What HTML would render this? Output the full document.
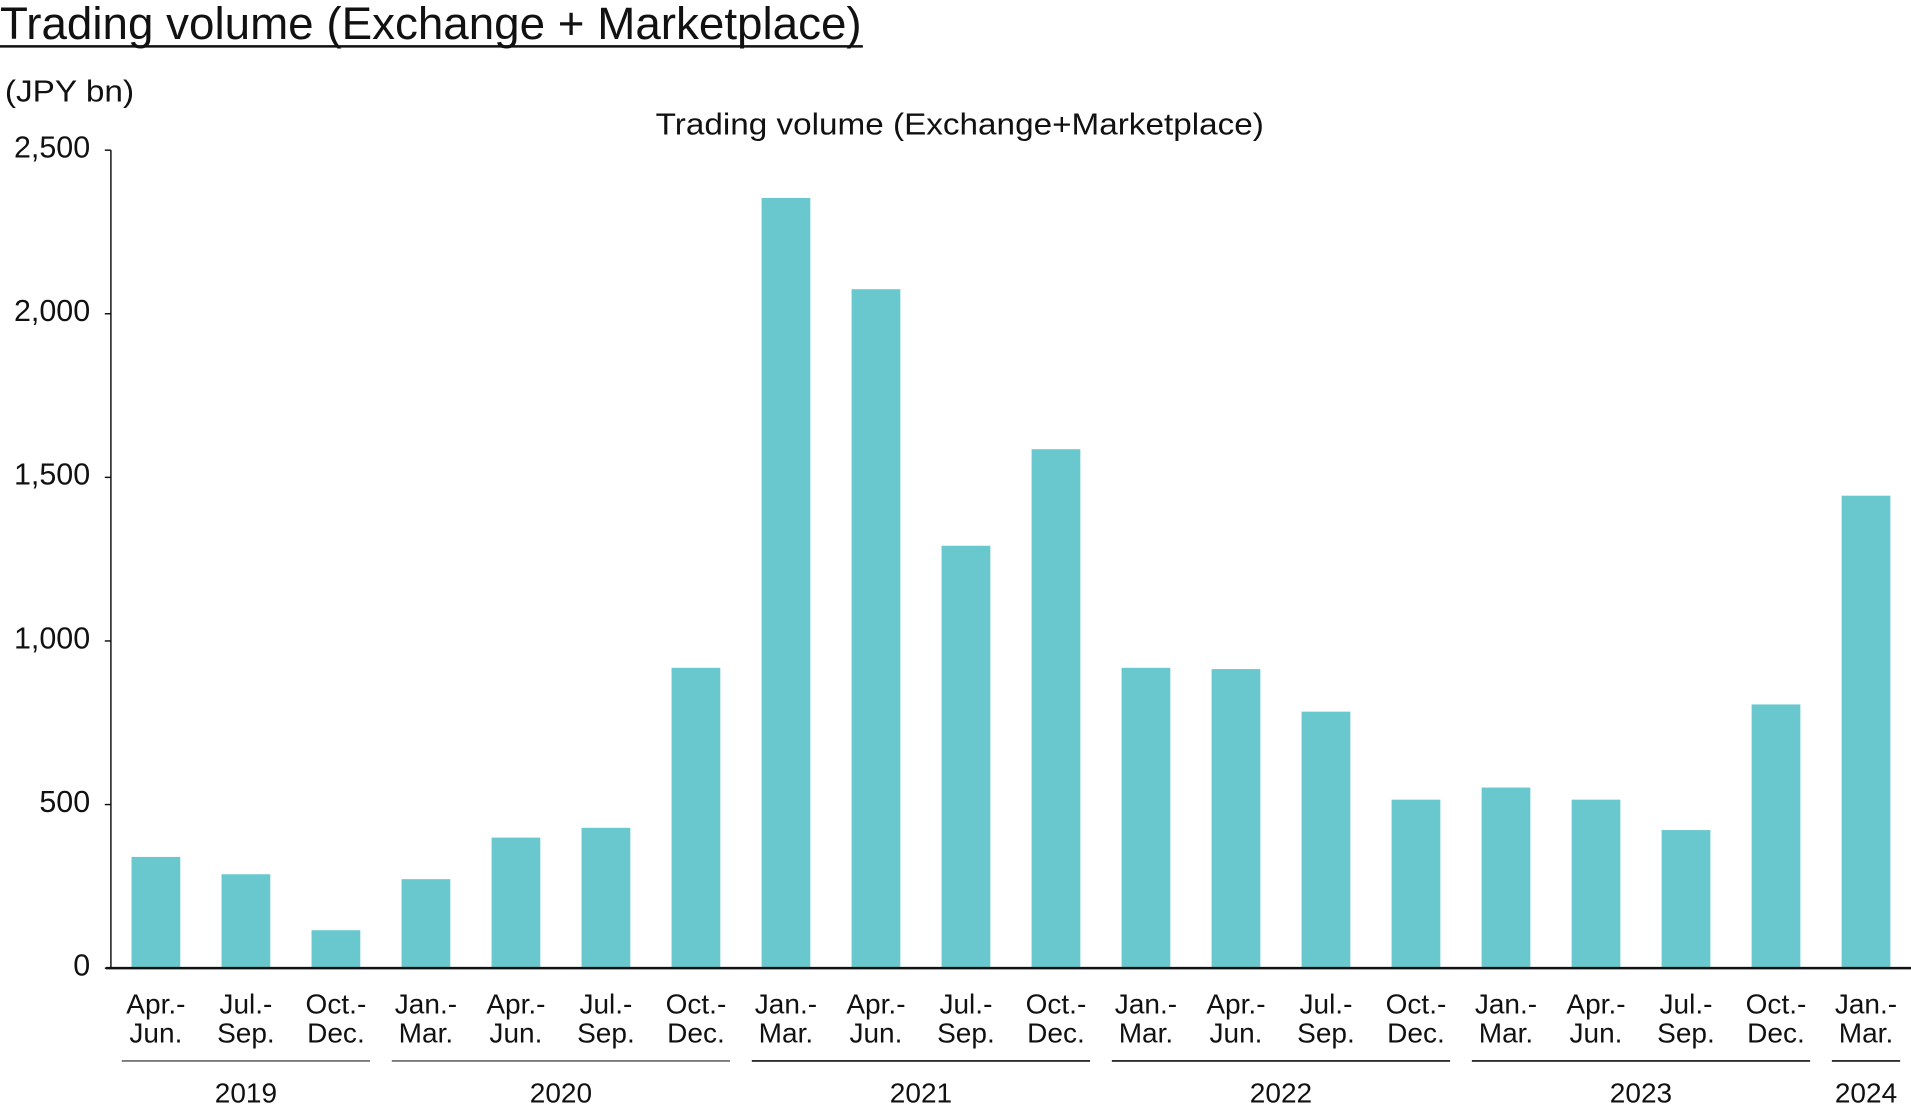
<!DOCTYPE html>
<html><head><meta charset="utf-8"><style>
html,body{margin:0;padding:0;background:#fff;width:1911px;height:1111px;overflow:hidden}
svg{display:block;font-family:"Liberation Sans",Arial,sans-serif}
</style></head><body>
<svg id="chart" width="1911" height="1111" viewBox="0 0 1568 910" preserveAspectRatio="none" xmlns="http://www.w3.org/2000/svg">
<text x="0" y="32" font-size="37" textLength="707" lengthAdjust="spacingAndGlyphs" fill="#111">Trading volume (Exchange + Marketplace)</text>
<line x1="0" y1="38" x2="708" y2="38" stroke="#111" stroke-width="2"/>
<text x="4" y="83" font-size="25" textLength="106" lengthAdjust="spacingAndGlyphs" fill="#111">(JPY bn)</text>
<text x="538" y="110" font-size="25" textLength="499" lengthAdjust="spacingAndGlyphs" fill="#111">Trading volume (Exchange+Marketplace)</text>
<g id="plot"></g>
</svg>
<script>
const categoriesTop = ["Apr.-","Jul.-","Oct.-","Jan.-","Apr.-","Jul.-","Oct.-","Jan.-","Apr.-","Jul.-","Oct.-","Jan.-","Apr.-","Jul.-","Oct.-","Jan.-","Apr.-","Jul.-","Oct.-","Jan.-"];
const categoriesBottom = ["Jun.","Sep.","Dec.","Mar.","Jun.","Sep.","Dec.","Mar.","Jun.","Sep.","Dec.","Mar.","Jun.","Sep.","Dec.","Mar.","Jun.","Sep.","Dec.","Mar."];
const volumes = [340,287,116,272,399,429,918,2354,2075,1291,1586,918,914,784,515,552,515,422,806,1444];
const yTicks = [0,500,1000,1500,2000,2500];
const yTickLabels = ["0","500","1,000","1,500","2,000","2,500"];
const yearLabels = ["2019","2020","2021","2022","2023","2024"];
const yearStart = [0,3,7,11,15,19];
const yearEnd = [2,6,10,14,18,19];

const NS="http://www.w3.org/2000/svg";
const g=document.getElementById('plot');
const X0=91,X1=1568,Y0=793,YT=123,YMAX=2500;
const slot=(X1-X0)/volumes.length;
function xc(i){return X0+slot*(i+0.5);}
function y(v){return Y0-(v/YMAX)*(Y0-YT);}
function mk(tag,attrs){const e=document.createElementNS(NS,tag);for(const k in attrs)e.setAttribute(k,attrs[k]);g.appendChild(e);return e;}

volumes.forEach((v,i)=>{
  const r=mk('rect',{x:xc(i)-20,y:y(v),width:40,height:Y0-y(v),fill:'#69c8cd'});
  
  
  const t1=mk('text',{x:xc(i),y:830,'font-size':23,'text-anchor':'middle',fill:'#111'});
  t1.textContent=categoriesTop[i];
  
  
  const t2=mk('text',{x:xc(i),y:854,'font-size':23,'text-anchor':'middle',fill:'#111'});
  t2.textContent=categoriesBottom[i];
  
  
});
const ya=mk('line',{x1:X0,y1:YT,x2:X0,y2:Y0,stroke:'#111','stroke-width':1.2});


const xa=mk('line',{x1:X0-4,y1:Y0,x2:1568,y2:Y0,stroke:'#111','stroke-width':2});


yTicks.forEach((v,i)=>{
  const tk=mk('line',{x1:X0-5,y1:y(v),x2:X0,y2:y(v),stroke:'#111','stroke-width':1.2});
  
  
  const t=mk('text',{x:74,y:y(v)+6,'font-size':25,'text-anchor':'end',fill:'#111'});
  t.textContent=yTickLabels[i];
  
  
});
yearLabels.forEach((lab,i)=>{
  const a=xc(yearStart[i])-28,b=Math.min(xc(yearEnd[i])+28,1563);
  const col=i<2?'#666':'#111';
  const ln=mk('line',{x1:a,y1:869,x2:b,y2:869,stroke:col,'stroke-width':1.3});
  
  
  const t=mk('text',{x:(a+b)/2,y:903,'font-size':23,'text-anchor':'middle',fill:'#111'});
  t.textContent=lab;
  
  
});
</script>
</body></html>
